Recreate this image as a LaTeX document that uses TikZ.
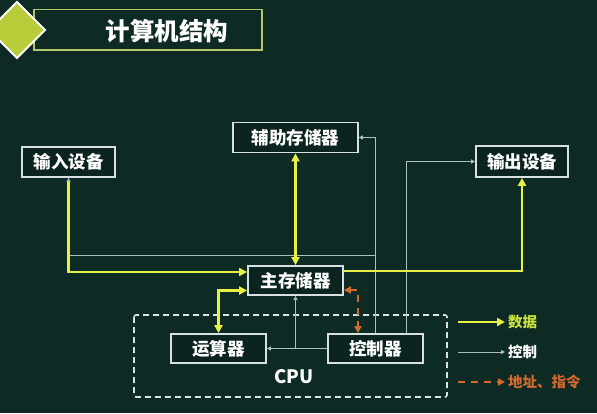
\documentclass[tikz,border=0pt]{standalone}
\usepackage{fontspec}
\newfontfamily\cjk{Noto Sans CJK SC}
\usetikzlibrary{arrows.meta}
\definecolor{bg}{RGB}{14,42,36}
\definecolor{boxfill}{RGB}{12,36,32}
\definecolor{boxline}{RGB}{215,225,225}
\definecolor{datayel}{RGB}{230,240,70}
\definecolor{datatxt}{RGB}{200,225,60}
\definecolor{ctrlgray}{RGB}{175,190,190}
\definecolor{addrorange}{RGB}{210,105,45}
\definecolor{titleline}{RGB}{180,198,105}
\definecolor{diamondfill}{RGB}{184,204,58}
\tikzset{
  unit/.style={draw=boxline, line width=1.8pt, fill=boxfill, text=white,
    font=\cjk\bfseries\fontsize{17.5}{19}\selectfont, inner sep=0pt},
  data/.style={draw=datayel, line width=2.6pt,
    arrows={-Triangle[length=8pt,width=8pt]}},
  datab/.style={data, arrows={Triangle[length=8pt,width=8pt]-Triangle[length=8pt,width=8pt]}},
  ctrl/.style={draw=ctrlgray, line width=1pt,
    arrows={-Triangle[length=4pt,width=4pt,fill=white]}},
  addr/.style={draw=addrorange, line width=2.2pt, dash pattern=on 7pt off 6pt,
    arrows={Triangle[length=7pt,width=7pt]-Triangle[length=7pt,width=7pt]}},
  legtext/.style={anchor=west, inner sep=0pt, font=\cjk\bfseries\fontsize{14.5}{16}\selectfont}
}
\begin{document}
\begin{tikzpicture}[x=1pt,y=-1pt]
\fill[bg] (0,0) rectangle (597,413);
\useasboundingbox (0,0) rectangle (597,413);
% title
\draw[titleline, line width=1.6pt, fill=bg] (34,9.5) rectangle (262,50);
\node[font=\cjk\bfseries\fontsize{24.5}{26}\selectfont, text=white] (title) at (167,31) {计算机结构};
\draw[white, line width=2pt, fill=diamondfill] (17,2) -- (45,30) -- (17,58) -- (-11,30) -- cycle;
% units
\node[unit, minimum width=93pt, minimum height=30pt] (in) at (68.5,162) {输入设备};
\node[unit, minimum width=125pt, minimum height=30pt] (aux) at (295.5,137.5) {辅助存储器};
\node[unit, minimum width=92pt, minimum height=31pt] (out) at (522,161.5) {输出设备};
\node[unit, minimum width=95pt, minimum height=29pt] (mem) at (295.5,280.5) {主存储器};
\node[unit, minimum width=95pt, minimum height=29pt] (alu) at (218.5,348.5) {运算器};
\node[unit, minimum width=95pt, minimum height=29pt] (cu) at (375.5,348.5) {控制器};
% CPU
\draw[boxline, line width=1.6pt, dash pattern=on 6pt off 4pt, rounded corners=2pt] (134,315) rectangle (447,397);
\node[font=\cjk\bfseries\fontsize{18.5}{20}\selectfont, text=white] (cpu) at (294,377) {CPU};
% control lines
\coordinate (j1) at (375.5,255);
\coordinate (j2) at (295.5,348.5);
\draw[ctrl] (cu.north) |- (aux.east);
\draw[ctrl] (j1) -| (in.south);
\draw[ctrl] ([xshift=30.5pt]cu.north) |- (out.west);
\draw[ctrl] (cu.west) -- (alu.east);
\draw[ctrl] (j2) -- (mem.south);
% data lines
\draw[data, shorten <=4pt] (in.south) |- ([yshift=8.5pt]mem.west);
\draw[data] ([yshift=9.5pt]mem.east) -| (out.south);
\draw[datab] (mem.north) -- (aux.south);
\draw[datab] (alu.north) |- ([yshift=-10pt]mem.west);
% address
\draw[addr] ([yshift=-9.5pt]mem.east) -| ([xshift=-17.5pt]cu.north);
% legend
\node[legtext, text=datatxt] (ldata) at (508,322) {数据};
\node[legtext, text=white] (lctrl) at (508,352) {控制};
\node[legtext, text=addrorange] (laddr) at (508,382) {地址、指令};
\coordinate (s1) at (458,322);
\coordinate (s2) at (458,352);
\coordinate (s3) at (458,382);
\draw[data, shorten >=3pt] (s1) -- (ldata.west);
\draw[ctrl, shorten >=3pt] (s2) -- (lctrl.west);
\draw[addr, arrows={-Triangle[length=7pt,width=7pt]}, shorten >=3pt] (s3) -- (laddr.west);
\end{tikzpicture}
\end{document}
